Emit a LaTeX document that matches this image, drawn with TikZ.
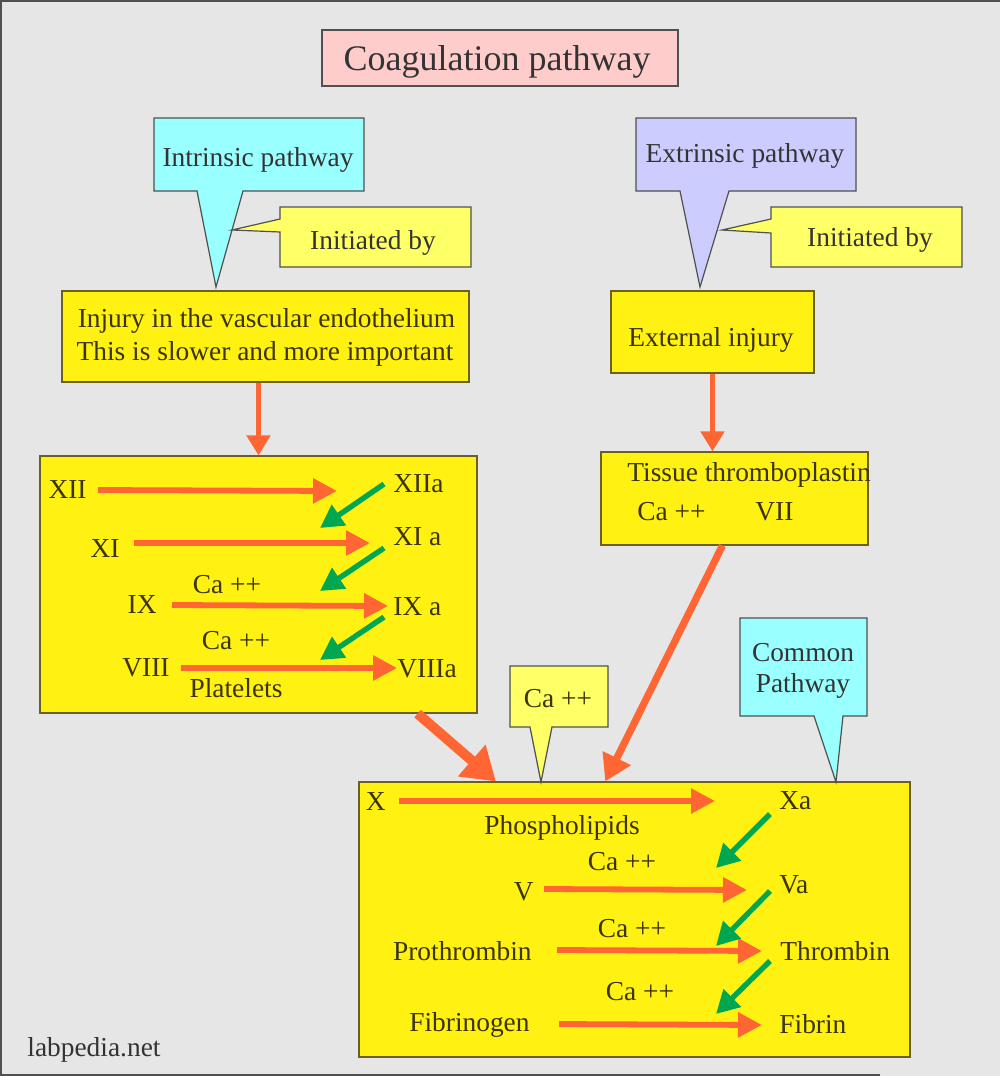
\documentclass[tikz,border=0pt]{standalone}
\usepackage{fontspec}
\setmainfont{Liberation Serif}
\usetikzlibrary{arrows.meta,calc}
\definecolor{bgc}{HTML}{E6E6E6}
\definecolor{frc}{HTML}{505050}
\definecolor{ybg}{HTML}{FFF212}
\definecolor{ybd}{HTML}{6B6020}
\definecolor{cyl}{HTML}{FFFF66}
\definecolor{cyc}{HTML}{99FFFF}
\definecolor{lvc}{HTML}{CCCCFF}
\definecolor{pkc}{HTML}{FFCCCC}
\definecolor{orc}{HTML}{FF6633}
\definecolor{grc}{HTML}{00A650}
\definecolor{tol}{HTML}{3B3300}
\definecolor{dgc}{HTML}{333333}
\definecolor{cbd}{HTML}{505050}
\newcommand\bodyfs{\fontsize{13.7}{16}\selectfont}
\newcommand\titlefs{\fontsize{18}{21}\selectfont}
\begin{document}
\begin{tikzpicture}[x=0.5pt,y=-0.5pt,
  lbl/.style={inner sep=0pt, anchor=base, font=\bodyfs, text=tol},
  clbl/.style={inner sep=0pt, anchor=base, font=\bodyfs, text=dgc},
  ybox/.style={draw=ybd, fill=ybg, line width=0.6pt, inner sep=0pt},
  callout/.style={draw=cbd, line width=0.6pt},
  oarr/.style={draw=orc, line width=2.9pt, -{Triangle[length=12pt,width=12pt]}},
  garr/.style={draw=grc, line width=2.7pt, -{Triangle[length=11.5pt,width=12pt]}}]
\useasboundingbox (0,0) rectangle (1000,1076);
\fill[bgc] (0,0) rectangle (1000,1076);
\draw[frc, line width=1pt] (880,1075) -- (0.8,1075) -- (0.8,0.8) -- (1000,0.8);

% title
\node[draw=cbd, fill=pkc, line width=0.6pt, minimum width=178pt, minimum height=28pt, inner sep=0pt] (titlebox) at (500,58) {};
\node[clbl, font=\titlefs] (title) at (497,70) {Coagulation pathway};

% callouts, top
\coordinate (intrtip) at (216,287);
\coordinate (extrtip) at (700,287);
\coordinate (init1tip) at (232,230);
\coordinate (init2tip) at (722,230);
\path[callout, fill=cyc] (154,118) -- (364,118) -- (364,191) -- (243,191) -- (intrtip) -- (197,191) -- (154,191) -- cycle;
\node[clbl] (intr) at (258,166) {Intrinsic pathway};
\path[callout, fill=cyl] (280,207) -- (471,207) -- (471,267) -- (280,267) -- (280,232) -- (init1tip) -- (280,219) -- cycle;
\node[clbl] (init1) at (373,249) {Initiated by};
\path[callout, fill=lvc] (636,118) -- (856,118) -- (856,191) -- (729,191) -- (extrtip) -- (680,191) -- (636,191) -- cycle;
\node[clbl] (extr) at (745,162) {Extrinsic pathway};
\path[callout, fill=cyl] (771,207) -- (962,207) -- (962,267) -- (771,267) -- (771,233) -- (init2tip) -- (771,219) -- cycle;
\node[clbl] (init2) at (870,246) {Initiated by};

% boxes
\node[ybox, minimum width=203.5pt, minimum height=45.5pt] (injury) at (265.5,336.5) {};
\node[lbl] (inj1) at (266.5,327) {Injury in the vascular endothelium};
\node[lbl] (inj2) at (265,360) {This is slower and more important};
\node[ybox, minimum width=101.5pt, minimum height=41pt] (ext) at (712.5,332) {};
\node[lbl] (extt) at (711,346) {External injury};
\node[ybox, minimum width=218.5pt, minimum height=128.5pt] (ifac) at (258.5,584.5) {};
\node[ybox, minimum width=133.5pt, minimum height=46.5pt] (tissue) at (734.5,498.5) {};
\node[ybox, minimum width=275.5pt, minimum height=137.5pt] (common) at (634.5,919.5) {};

% bottom callouts
\coordinate (catip) at (541,782);
\coordinate (comtip) at (836,782);
\path[callout, fill=cyl] (510,666) -- (608,666) -- (608,727) -- (552,727) -- (catip) -- (530,727) -- (510,727) -- cycle;
\node[lbl] (cacall) at (558,707) {Ca ++};
\path[callout, fill=cyc] (740,618) -- (867,618) -- (867,716) -- (843,716) -- (comtip) -- (814,716) -- (740,716) -- cycle;
\node[clbl] (com1) at (803,661) {Common};
\node[clbl] (com2) at (803,692) {Pathway};

% connectors between boxes
\draw[orc, line width=2.5pt, -{Triangle[length=10pt,width=11.5pt]}] (ifac.north |- injury.south) -- (ifac.north);
\draw[orc, line width=2.5pt, -{Triangle[length=10pt,width=11.5pt]}] (ext.south) -- (ext.south |- tissue.north);
\draw[orc, line width=5pt, -{Triangle[length=16pt,width=20pt]}] ($(ifac.south west)!0.863!(ifac.south east)$) -- ($(common.north west)!0.249!(common.north east)$);
\draw[orc, line width=3.6pt, -{Triangle[length=13pt,width=15pt]}] ($(tissue.south west)!0.455!(tissue.south east)$) -- ($(common.north west)!0.447!(common.north east)$);

% tissue box text
\node[lbl, anchor=base west] (tissuet) at (627,481) {Tissue thromboplastin};
\node[lbl, anchor=base west] (catis) at (637,520) {Ca ++};
\node[lbl, anchor=base west] (vii) at (755,520) {VII};

% intrinsic factor labels
\node[lbl, anchor=base east] (xii) at (87,498) {XII};
\node[lbl, anchor=base west] (xiia) at (393,492) {XIIa};
\node[lbl, anchor=base east] (xi) at (120,557) {XI};
\node[lbl, anchor=base west] (xia) at (393,545) {XI a};
\node[lbl] (ca1) at (227,593) {Ca ++};
\node[lbl, anchor=base east] (ix) at (157,613) {IX};
\node[lbl, anchor=base west] (ixa) at (393,615) {IX a};
\node[lbl] (ca2) at (236,649) {Ca ++};
\node[lbl, anchor=base east] (viii) at (170,676) {VIII};
\node[lbl, anchor=base west] (viiia) at (397,677) {VIIIa};
\node[lbl] (plat) at (236,697) {Platelets};

% common pathway labels
\node[lbl, anchor=base east] (x) at (386,810) {X};
\node[lbl, anchor=base west] (xa) at (779,809) {Xa};
\node[lbl] (phos) at (562,834) {Phospholipids};
\node[lbl] (ca3) at (622,870) {Ca ++};
\node[lbl, anchor=base east] (v) at (534,900) {V};
\node[lbl, anchor=base west] (va) at (779,893) {Va};
\node[lbl] (ca4) at (632,937) {Ca ++};
\node[lbl, anchor=base east] (proth) at (532,960) {Prothrombin};
\node[lbl, anchor=base west] (thromb) at (780,960) {Thrombin};
\node[lbl] (ca5) at (640,1000) {Ca ++};
\node[lbl, anchor=base east] (fibgen) at (530,1031) {Fibrinogen};
\node[lbl, anchor=base west] (fibrin) at (779,1033) {Fibrin};

% arrow end points
\foreach \n/\x/\y in {o1s/98/490, o1e/337/491, o2s/134/543, o2e/370/543,
  o3s/172/605, o3e/388/606, o4s/181/668, o4e/397/668,
  o5s/399/801, o5e/715/801, o6s/544/889, o6e/747/890,
  o7s/557/950, o7e/762/951, o8s/559/1024, o8e/762/1025,
  g1s/384/484, g1e/320/528, g2s/384/548, g2e/320/591, g3s/384/617, g3e/320/660,
  g4s/770/814, g4e/716/868, g5s/770/891, g5e/716/946, g6s/770/961, g6e/716/1014}
  \coordinate (\n) at (\x,\y);
\foreach \i in {1,...,8} \draw[oarr] (o\i s) -- (o\i e);
\foreach \i in {1,...,6} \draw[garr] (g\i s) -- (g\i e);

\node[clbl, anchor=base west] (site) at (27,1056) {labpedia.net};
\end{tikzpicture}
\end{document}
